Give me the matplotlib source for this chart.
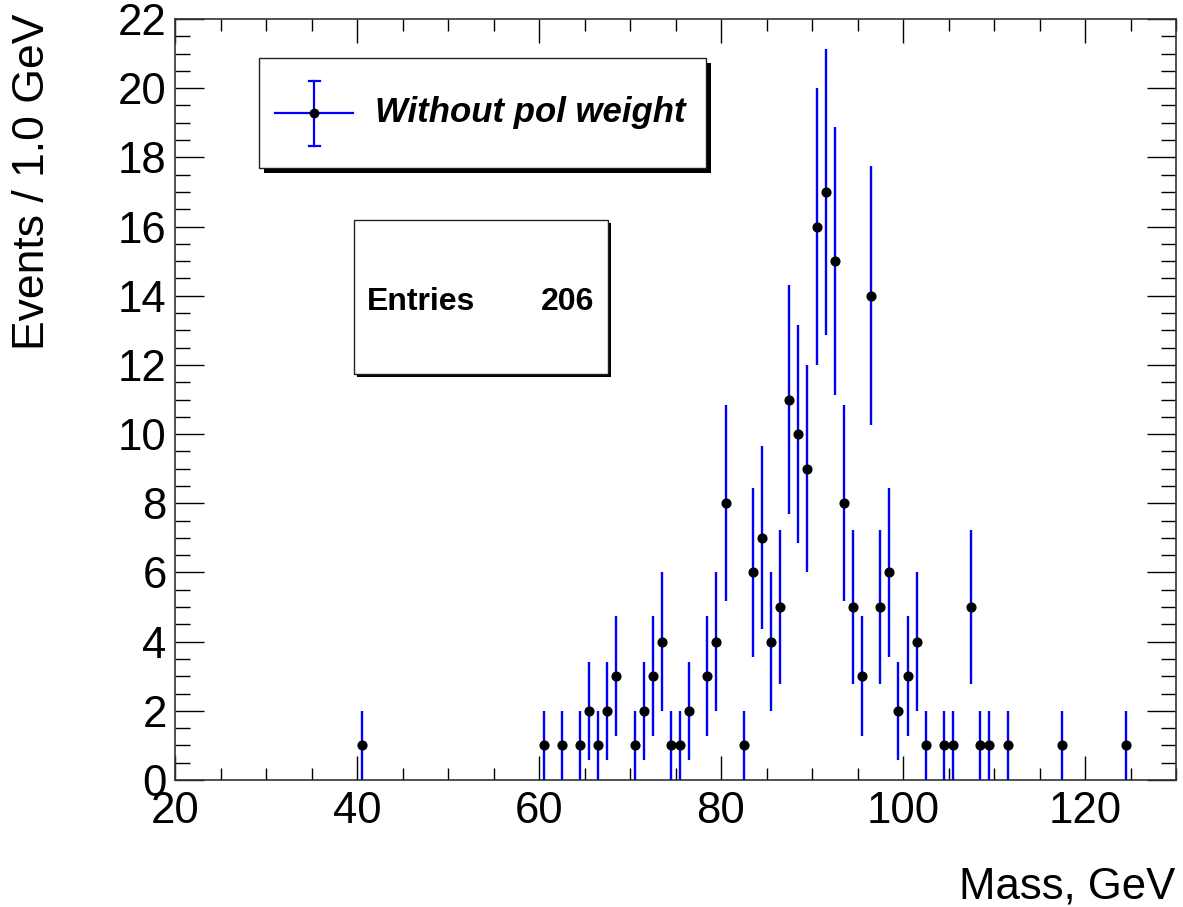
import numpy as np
import matplotlib
matplotlib.use("Agg")
import matplotlib.pyplot as plt
from matplotlib.patches import Rectangle
from matplotlib.lines import Line2D
from matplotlib.ticker import MultipleLocator

plt.rcParams['font.family'] = ['Liberation Sans', 'DejaVu Sans']

# ---- data ----
mass = [40.5, 60.5, 62.5, 64.5, 65.5, 66.5, 67.5, 68.5, 70.5, 71.5, 72.5, 73.5,
        74.5, 75.5, 76.5, 78.5, 79.5, 80.5, 82.5, 83.5, 84.5, 85.5, 86.5, 87.5,
        88.5, 89.5, 90.5, 91.5, 92.5, 93.5, 94.5, 95.5, 96.5, 97.5, 98.5, 99.5,
        100.5, 101.5, 102.5, 104.5, 105.5, 107.5, 108.5, 109.5, 111.5, 117.5, 124.5]
counts = [1, 1, 1, 1, 2, 1, 2, 3, 1, 2, 3, 4,
          1, 1, 2, 3, 4, 8, 1, 6, 7, 4, 5, 11,
          10, 9, 16, 17, 15, 8, 5, 3, 14, 5, 6, 2,
          3, 4, 1, 1, 1, 5, 1, 1, 1, 1, 1]
entries = 206
legend_label = "Without pol weight"
x_label = "Mass, GeV"
y_label = "Events / 1.0 GeV"

W, H = 1183, 907
fig = plt.figure(figsize=(W / 100, H / 100), dpi=100)
L, R, T, B = 175, 1176, 19, 780
ax = fig.add_axes([L / W, 1 - B / H, (R - L) / W, (B - T) / H])

err = np.sqrt(np.array(counts, dtype=float))
ax.errorbar(mass, counts, yerr=err, fmt='o', color='black', ms=6.3,
            ecolor='#0000ff', elinewidth=1.7, capsize=0, zorder=3)

ax.set_xlim(20, 130)
ax.set_ylim(0, 22)
ax.xaxis.set_major_locator(MultipleLocator(20))
ax.xaxis.set_minor_locator(MultipleLocator(5))
ax.yaxis.set_major_locator(MultipleLocator(2))
ax.yaxis.set_minor_locator(MultipleLocator(0.5))
ax.tick_params(which='both', direction='in', top=True, right=True, color='black', width=1.0)
ax.tick_params(axis='x', which='major', length=17, pad=8, labelsize=31.5)
ax.tick_params(axis='x', which='minor', length=8.5)
ax.tick_params(axis='y', which='major', length=21, pad=6, labelsize=31.5)
ax.tick_params(axis='y', which='minor', length=10.5)
for s in ax.spines.values():
    s.set_linewidth(1.2)
    s.set_color('#333333')

# axis titles
fig.text(1175 / W, 8 / H, x_label, ha='right', va='baseline', fontsize=31.5)
fig.text(33 / W, 1 - 14 / H, y_label, ha='center', va='top', rotation=90, fontsize=32)

def px_rect(x0, y0, x1, y1, **kw):
    return Rectangle((x0 / W, 1 - y1 / H), (x1 - x0) / W, (y1 - y0) / H,
                     transform=fig.transFigure, **kw)

# legend box with shadow
fig.patches.append(px_rect(264, 63, 711, 173, facecolor='black', edgecolor='none', zorder=5))
fig.patches.append(px_rect(259, 58, 706, 168, facecolor='white', edgecolor='#222222', lw=1.0, zorder=6))
fig.lines.append(Line2D([275 / W, 353 / W], [1 - 113 / H] * 2, transform=fig.transFigure,
                        color='#0000ff', lw=1.6, zorder=7))
fig.lines.append(Line2D([314 / W] * 2, [1 - 81 / H, 1 - 146 / H], transform=fig.transFigure,
                        color='#0000ff', lw=1.6, zorder=7))
for yy in (81, 146):
    fig.lines.append(Line2D([309 / W, 320 / W], [1 - yy / H] * 2, transform=fig.transFigure,
                            color='#0000ff', lw=1.6, zorder=7))
fig.lines.append(Line2D([314 / W], [1 - 113 / H], transform=fig.transFigure, marker='o',
                        ms=6.0, color='black', ls='none', zorder=8))
fig.text(375 / W, 1 - 122 / H, legend_label, ha='left', va='baseline', fontsize=25,
         fontweight='bold', fontstyle='italic', zorder=8)

# stats box with shadow
fig.patches.append(px_rect(357, 223, 611, 377, facecolor='black', edgecolor='none', zorder=5))
fig.patches.append(px_rect(354, 220, 608, 374, facecolor='white', edgecolor='#222222', lw=1.0, zorder=6))
fig.text(367 / W, 1 - 310 / H, "Entries", ha='left', va='baseline', fontsize=23,
         fontweight='bold', zorder=8)
fig.text(594 / W, 1 - 310 / H, f"{entries}", ha='right', va='baseline', fontsize=23,
         fontweight='bold', zorder=8)

fig.savefig("out.png", dpi=100)
